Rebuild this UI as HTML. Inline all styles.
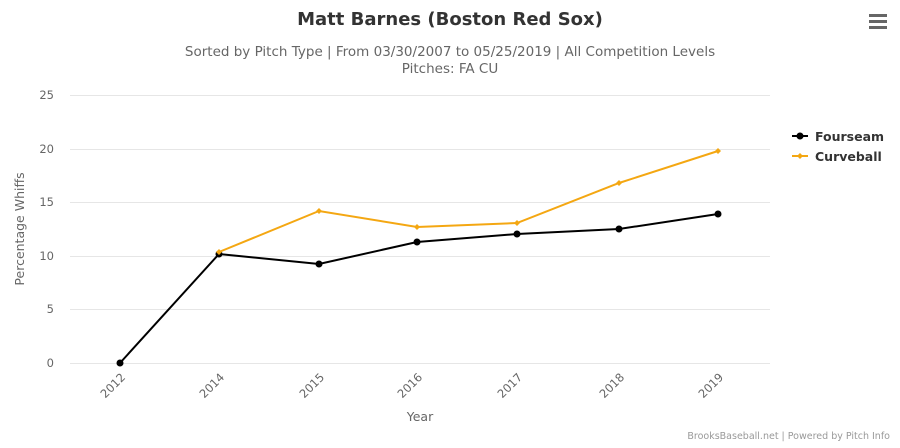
<!DOCTYPE html>
<html><head><style>body{margin:0;background:#fff}</style></head><body>
<svg width="900" height="443" xmlns="http://www.w3.org/2000/svg" font-family="'DejaVu Sans', 'Liberation Sans', sans-serif">
<rect width="900" height="443" fill="#fff"/>
<text x="450" y="25" text-anchor="middle" font-size="18" font-weight="bold" fill="#333">Matt Barnes (Boston Red Sox)</text>
<text x="450" y="56" text-anchor="middle" font-size="13.5" fill="#666">Sorted by Pitch Type | From 03/30/2007 to 05/25/2019 | All Competition Levels</text>
<text x="450" y="73" text-anchor="middle" font-size="13.5" fill="#666">Pitches: FA CU</text>
<g fill="#666"><rect x="869" y="14" width="18" height="3"/><rect x="869" y="20" width="18" height="3"/><rect x="869" y="26" width="18" height="3"/></g>
<g stroke="#e6e6e6" stroke-width="1">
<line x1="70" x2="770" y1="95.5" y2="95.5"/><line x1="70" x2="770" y1="149.5" y2="149.5"/><line x1="70" x2="770" y1="202.5" y2="202.5"/><line x1="70" x2="770" y1="256.5" y2="256.5"/><line x1="70" x2="770" y1="309.5" y2="309.5"/><line x1="70" x2="770" y1="363.5" y2="363.5"/>
</g>
<g font-size="11.5" fill="#666" text-anchor="end">
<text x="54" y="99">25</text><text x="54" y="153">20</text><text x="54" y="206">15</text><text x="54" y="260">10</text><text x="54" y="313">5</text><text x="54" y="367">0</text>
</g>
<text transform="translate(24,229) rotate(-90)" text-anchor="middle" font-size="12.5" fill="#666">Percentage Whiffs</text>
<g font-size="11.5" fill="#666" text-anchor="end">
<text transform="translate(126,378) rotate(-45)">2012</text>
<text transform="translate(225,378) rotate(-45)">2014</text>
<text transform="translate(325,378) rotate(-45)">2015</text>
<text transform="translate(423,378) rotate(-45)">2016</text>
<text transform="translate(523,378) rotate(-45)">2017</text>
<text transform="translate(625,378) rotate(-45)">2018</text>
<text transform="translate(724,378) rotate(-45)">2019</text>
</g>
<text x="420" y="421" text-anchor="middle" font-size="12.5" fill="#666">Year</text>
<polyline fill="none" stroke="#000" stroke-width="2" points="120,363 219,254 319,264 417,242 517,234 619,229 718,214"/>
<g fill="#000"><circle cx="120" cy="363" r="3.5"/><circle cx="219" cy="254" r="3.5"/><circle cx="319" cy="264" r="3.5"/><circle cx="417" cy="242" r="3.5"/><circle cx="517" cy="234" r="3.5"/><circle cx="619" cy="229" r="3.5"/><circle cx="718" cy="214" r="3.5"/></g>
<polyline fill="none" stroke="#f4a712" stroke-width="2" points="219,252 319,211 417,227 517,223 619,183 718,151"/>
<g fill="#f4a712">
<polygon points="219,249 222,252 219,255 216,252"/><polygon points="319,208 322,211 319,214 316,211"/><polygon points="417,224 420,227 417,230 414,227"/><polygon points="517,220 520,223 517,226 514,223"/><polygon points="619,180 622,183 619,186 616,183"/><polygon points="718,148 721,151 718,154 715,151"/>
</g>
<line x1="792" x2="808" y1="136" y2="136" stroke="#000" stroke-width="2"/><circle cx="800" cy="136" r="3.5"/>
<text x="815" y="141" font-size="12.5" font-weight="bold" fill="#333">Fourseam</text>
<line x1="792" x2="808" y1="156" y2="156" stroke="#f4a712" stroke-width="2"/><polygon points="800,153 803,156 800,159 797,156" fill="#f4a712"/>
<text x="815" y="161" font-size="12.5" font-weight="bold" fill="#333">Curveball</text>
<text x="890" y="439" text-anchor="end" font-size="9.5" fill="#999">BrooksBaseball.net | Powered by Pitch Info</text>
</svg>
</body></html>
